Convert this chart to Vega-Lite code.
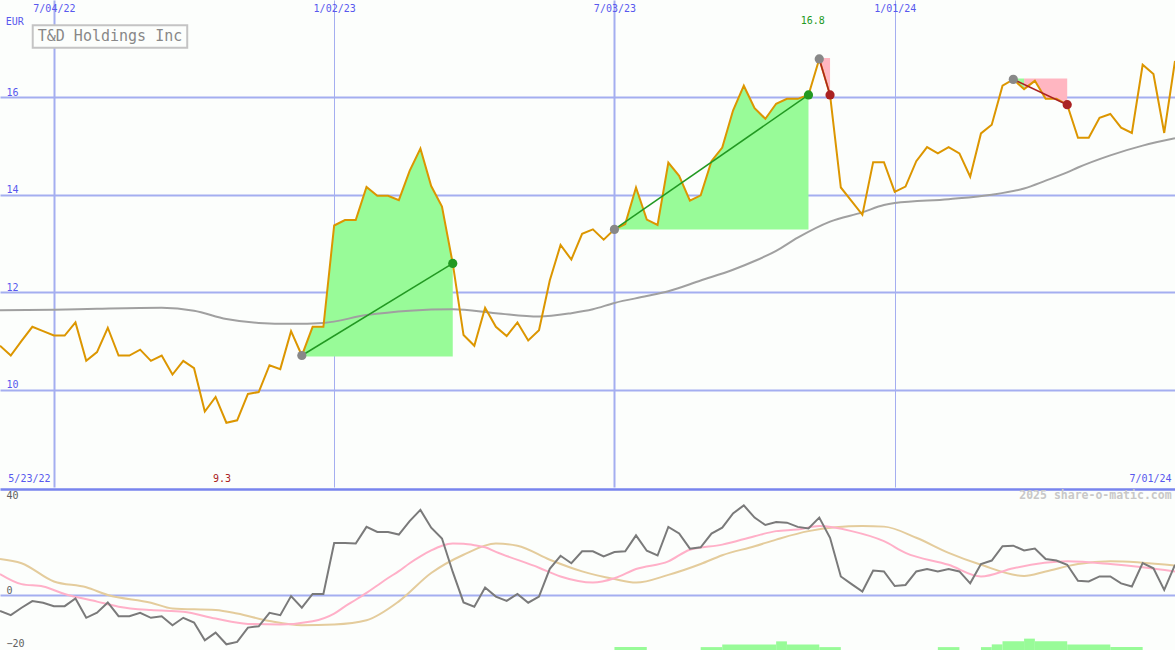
{
  "$schema": "https://vega.github.io/schema/vega-lite/v6.json",
  "width": 1175,
  "height": 650,
  "autosize": {"type": "none"},
  "padding": 0,
  "background": "#fcfefc",
  "config": {"view": {"stroke": null}, "font": "DejaVu Sans Mono", "axis": {"labelFont": "DejaVu Sans Mono"}},
  "datasets": {
    "weekly": [
      {"d":"2022-05-30","p":10.90,"o":-6.0},{"d":"2022-06-06","p":10.70,"o":-7.6},{"d":"2022-06-13","p":11.00,"o":-4.8},{"d":"2022-06-20","p":11.29,"o":-2.3},
      {"d":"2022-06-27","p":11.20,"o":-2.9},{"d":"2022-07-04","p":11.11,"o":-4.2},{"d":"2022-07-11","p":11.11,"o":-4.2},{"d":"2022-07-18","p":11.38,"o":-1.3},
      {"d":"2022-07-25","p":10.59,"o":-8.6},{"d":"2022-08-01","p":10.77,"o":-6.7},{"d":"2022-08-08","p":11.27,"o":-2.8},{"d":"2022-08-15","p":10.70,"o":-8.0},
      {"d":"2022-08-22","p":10.70,"o":-8.0},{"d":"2022-08-29","p":10.82,"o":-6.7},{"d":"2022-09-05","p":10.59,"o":-8.6},{"d":"2022-09-12","p":10.70,"o":-8.0},
      {"d":"2022-09-19","p":10.31,"o":-11.4},{"d":"2022-09-26","p":10.59,"o":-8.6},{"d":"2022-10-03","p":10.44,"o":-10.4},{"d":"2022-10-10","p":9.55,"o":-17.1},
      {"d":"2022-10-17","p":9.85,"o":-14.2},{"d":"2022-10-24","p":9.32,"o":-18.6},{"d":"2022-10-31","p":9.37,"o":-17.7},{"d":"2022-11-07","p":9.91,"o":-12.3},
      {"d":"2022-11-14","p":9.95,"o":-11.8},{"d":"2022-11-21","p":10.50,"o":-6.7},{"d":"2022-11-28","p":10.42,"o":-7.6},{"d":"2022-12-05","p":11.20,"o":-0.4},
      {"d":"2022-12-12","p":10.70,"o":-4.8},{"d":"2022-12-19","p":11.29,"o":0.4},{"d":"2022-12-26","p":11.29,"o":0.4},{"d":"2023-01-02","p":13.37,"o":19.6},
      {"d":"2023-01-09","p":13.48,"o":19.6},{"d":"2023-01-16","p":13.48,"o":19.4},{"d":"2023-01-23","p":14.16,"o":25.7},{"d":"2023-01-30","p":13.98,"o":23.8},
      {"d":"2023-02-06","p":13.98,"o":23.8},{"d":"2023-02-13","p":13.89,"o":22.8},{"d":"2023-02-20","p":14.49,"o":27.9},{"d":"2023-02-27","p":14.95,"o":32.1},
      {"d":"2023-03-06","p":14.18,"o":25.4},{"d":"2023-03-13","p":13.76,"o":21.3},{"d":"2023-03-20","p":12.59,"o":8.7},{"d":"2023-03-27","p":11.12,"o":-2.8},
      {"d":"2023-04-03","p":10.90,"o":-4.4},{"d":"2023-04-10","p":11.68,"o":2.8},{"d":"2023-04-17","p":11.29,"o":-0.6},{"d":"2023-04-24","p":11.10,"o":-2.2},
      {"d":"2023-05-01","p":11.38,"o":0.4},{"d":"2023-05-08","p":11.01,"o":-2.9},{"d":"2023-05-15","p":11.22,"o":-0.6},{"d":"2023-05-22","p":12.24,"o":9.9},
      {"d":"2023-05-29","p":12.97,"o":14.8},{"d":"2023-06-05","p":12.67,"o":12.0},{"d":"2023-06-12","p":13.20,"o":16.5},{"d":"2023-06-19","p":13.29,"o":16.5},
      {"d":"2023-06-26","p":13.08,"o":14.6},{"d":"2023-07-03","p":13.29,"o":16.2},{"d":"2023-07-10","p":13.40,"o":16.5},{"d":"2023-07-17","p":14.15,"o":22.5},
      {"d":"2023-07-24","p":13.49,"o":16.7},{"d":"2023-07-31","p":13.38,"o":14.9},{"d":"2023-08-07","p":14.66,"o":25.7},{"d":"2023-08-14","p":14.39,"o":23.2},
      {"d":"2023-08-21","p":13.88,"o":17.5},{"d":"2023-08-28","p":13.99,"o":18.0},{"d":"2023-09-04","p":14.69,"o":23.2},{"d":"2023-09-11","p":14.97,"o":25.4},
      {"d":"2023-09-18","p":15.73,"o":30.8},{"d":"2023-09-25","p":16.24,"o":33.8},{"d":"2023-10-02","p":15.78,"o":29.2},{"d":"2023-10-09","p":15.56,"o":26.4},
      {"d":"2023-10-16","p":15.87,"o":27.5},{"d":"2023-10-23","p":15.97,"o":27.3},{"d":"2023-10-30","p":15.97,"o":25.7},{"d":"2023-11-06","p":16.05,"o":25.1},
      {"d":"2023-11-13","p":16.79,"o":29.2},{"d":"2023-11-20","p":16.05,"o":21.6},{"d":"2023-11-27","p":14.15,"o":7.0},{"d":"2023-12-04","p":13.87,"o":4.1},
      {"d":"2023-12-11","p":13.59,"o":1.3},{"d":"2023-12-18","p":14.67,"o":9.2},{"d":"2023-12-25","p":14.67,"o":8.9},{"d":"2024-01-01","p":14.06,"o":3.4},
      {"d":"2024-01-08","p":14.17,"o":3.8},{"d":"2024-01-15","p":14.69,"o":8.9},{"d":"2024-01-22","p":14.98,"o":9.8},{"d":"2024-01-29","p":14.85,"o":8.9},
      {"d":"2024-02-05","p":14.98,"o":9.8},{"d":"2024-02-12","p":14.85,"o":8.9},{"d":"2024-02-19","p":14.37,"o":4.4},{"d":"2024-02-26","p":15.26,"o":11.7},
      {"d":"2024-03-04","p":15.44,"o":13.0},{"d":"2024-03-11","p":16.24,"o":18.4},{"d":"2024-03-18","p":16.37,"o":18.6},{"d":"2024-03-25","p":16.17,"o":16.8},
      {"d":"2024-04-01","p":16.34,"o":17.5},{"d":"2024-04-08","p":15.97,"o":13.6},{"d":"2024-04-15","p":15.97,"o":13.0},{"d":"2024-04-22","p":15.85,"o":11.4},
      {"d":"2024-04-29","p":15.17,"o":5.4},{"d":"2024-05-06","p":15.17,"o":5.1},{"d":"2024-05-13","p":15.58,"o":7.0},{"d":"2024-05-20","p":15.66,"o":7.0},
      {"d":"2024-05-27","p":15.38,"o":4.4},{"d":"2024-06-03","p":15.27,"o":3.2},{"d":"2024-06-10","p":16.67,"o":12.0},{"d":"2024-06-17","p":16.48,"o":10.1},
      {"d":"2024-06-24","p":15.27,"o":1.9},{"d":"2024-07-01","p":16.75,"o":11.4}
    ],
    "ma": [
      {"d":"2022-05-30","v":11.63},{"d":"2022-07-04","v":11.64},{"d":"2022-08-01","v":11.66},{"d":"2022-09-12","v":11.68},{"d":"2022-10-03","v":11.62},
      {"d":"2022-10-24","v":11.45},{"d":"2022-11-14","v":11.37},{"d":"2022-12-05","v":11.35},{"d":"2022-12-26","v":11.37},{"d":"2023-01-23","v":11.53},
      {"d":"2023-02-20","v":11.62},{"d":"2023-03-20","v":11.65},{"d":"2023-04-17","v":11.57},{"d":"2023-05-15","v":11.50},{"d":"2023-06-05","v":11.57},
      {"d":"2023-06-19","v":11.65},{"d":"2023-07-03","v":11.78},{"d":"2023-07-24","v":11.92},{"d":"2023-08-07","v":12.02},{"d":"2023-08-28","v":12.24},
      {"d":"2023-09-18","v":12.46},{"d":"2023-10-02","v":12.64},{"d":"2023-10-16","v":12.85},{"d":"2023-10-30","v":13.12},{"d":"2023-11-20","v":13.45},
      {"d":"2023-12-11","v":13.64},{"d":"2023-12-25","v":13.79},{"d":"2024-01-01","v":13.83},{"d":"2024-02-05","v":13.91},{"d":"2024-03-04","v":14.00},
      {"d":"2024-03-25","v":14.13},{"d":"2024-04-08","v":14.29},{"d":"2024-04-22","v":14.46},{"d":"2024-04-29","v":14.56},{"d":"2024-05-20","v":14.81},
      {"d":"2024-06-10","v":15.01},{"d":"2024-07-01","v":15.16}
    ],
    "fast": [
      {"d":"2022-05-30","v":7.9},{"d":"2022-06-13","v":4.1},{"d":"2022-06-27","v":3.2},{"d":"2022-07-11","v":0.4},{"d":"2022-08-01","v":-2.5},
      {"d":"2022-08-15","v":-4.4},{"d":"2022-09-05","v":-5.7},{"d":"2022-09-26","v":-6.3},{"d":"2022-10-17","v":-8.9},{"d":"2022-11-07","v":-10.9},
      {"d":"2022-11-28","v":-11.1},{"d":"2022-12-19","v":-9.9},{"d":"2023-01-02","v":-7.0},{"d":"2023-01-09","v":-4.3},{"d":"2023-01-16","v":-1.8},
      {"d":"2023-01-23","v":0.8},{"d":"2023-01-30","v":3.6},{"d":"2023-02-06","v":6.4},{"d":"2023-02-13","v":9.0},{"d":"2023-02-20","v":12.0},
      {"d":"2023-02-27","v":14.6},{"d":"2023-03-06","v":16.8},{"d":"2023-03-13","v":18.6},{"d":"2023-03-20","v":19.4},{"d":"2023-03-27","v":19.3},
      {"d":"2023-04-03","v":18.8},{"d":"2023-04-10","v":18.0},{"d":"2023-04-17","v":16.3},{"d":"2023-05-15","v":10.3},{"d":"2023-05-29","v":7.0},
      {"d":"2023-06-19","v":4.7},{"d":"2023-07-03","v":6.3},{"d":"2023-07-17","v":9.8},{"d":"2023-08-07","v":12.7},{"d":"2023-08-21","v":17.1},
      {"d":"2023-09-11","v":19.0},{"d":"2023-10-02","v":22.2},{"d":"2023-10-16","v":24.1},{"d":"2023-10-30","v":24.7},{"d":"2023-11-13","v":26.0},
      {"d":"2023-12-04","v":24.1},{"d":"2023-12-25","v":20.3},{"d":"2024-01-08","v":15.9},{"d":"2024-02-05","v":11.4},{"d":"2024-02-26","v":7.0},
      {"d":"2024-03-18","v":10.1},{"d":"2024-04-22","v":12.7},{"d":"2024-05-20","v":11.7},{"d":"2024-06-10","v":10.5},{"d":"2024-07-01","v":8.9}
    ],
    "slow": [
      {"d":"2022-05-30","v":13.6},{"d":"2022-06-13","v":12.0},{"d":"2022-07-04","v":5.1},{"d":"2022-07-25","v":2.9},{"d":"2022-08-08","v":0.0},
      {"d":"2022-09-05","v":-2.9},{"d":"2022-09-19","v":-5.1},{"d":"2022-10-17","v":-5.7},{"d":"2022-10-31","v":-7.0},{"d":"2022-11-21","v":-9.8},
      {"d":"2022-12-12","v":-11.4},{"d":"2023-01-02","v":-11.1},{"d":"2023-01-23","v":-9.5},{"d":"2023-02-13","v":-2.4},{"d":"2023-03-06","v":8.3},
      {"d":"2023-03-27","v":15.2},{"d":"2023-04-17","v":19.4},{"d":"2023-05-01","v":18.6},{"d":"2023-05-22","v":13.3},{"d":"2023-06-12","v":8.9},
      {"d":"2023-07-03","v":6.0},{"d":"2023-07-17","v":4.7},{"d":"2023-08-07","v":7.6},{"d":"2023-08-28","v":11.7},{"d":"2023-09-11","v":15.0},
      {"d":"2023-10-02","v":18.4},{"d":"2023-10-16","v":20.9},{"d":"2023-11-06","v":24.1},{"d":"2023-12-11","v":26.0},{"d":"2023-12-25","v":25.8},
      {"d":"2024-01-15","v":21.6},{"d":"2024-02-05","v":15.9},{"d":"2024-02-26","v":11.4},{"d":"2024-03-25","v":7.2},{"d":"2024-04-08","v":8.9},
      {"d":"2024-04-29","v":11.7},{"d":"2024-05-20","v":12.7},{"d":"2024-07-01","v":11.1}
    ],
    "bars": [
      {"s":"2023-07-03","e":"2023-07-24","v":-19.66},{"s":"2023-08-28","e":"2023-09-11","v":-19.66},{"s":"2023-09-11","e":"2023-10-16","v":-18.63},
      {"s":"2023-10-16","e":"2023-10-23","v":-17.49},{"s":"2023-10-23","e":"2023-11-13","v":-18.63},{"s":"2023-11-13","e":"2023-11-27","v":-19.66},
      {"s":"2024-01-29","e":"2024-02-12","v":-19.66},{"s":"2024-02-26","e":"2024-03-04","v":-19.66},{"s":"2024-03-04","e":"2024-03-11","v":-18.63},
      {"s":"2024-03-11","e":"2024-03-25","v":-17.49},{"s":"2024-03-25","e":"2024-04-01","v":-16.46},{"s":"2024-04-01","e":"2024-04-22","v":-17.49},
      {"s":"2024-04-22","e":"2024-05-20","v":-18.63},{"s":"2024-05-20","e":"2024-06-10","v":-19.66}
    ],
    "trades": [
      {"d":"2022-12-12","p":10.70,"t":"t1","k":"entry","res":"win"},{"d":"2023-03-20","p":12.59,"t":"t1","k":"win","res":"win"},
      {"d":"2023-07-03","p":13.29,"t":"t2","k":"entry","res":"win"},{"d":"2023-11-06","p":16.05,"t":"t2","k":"win","res":"win"},
      {"d":"2023-11-13","p":16.79,"t":"t3","k":"entry","res":"loss"},{"d":"2023-11-20","p":16.05,"t":"t3","k":"loss","res":"loss"},
      {"d":"2024-03-18","p":16.37,"t":"t4","k":"entry","res":"loss"},{"d":"2024-04-22","p":15.85,"t":"t4","k":"loss","res":"loss"}
    ]
  },
  "layer": [
    {
      "layer": [
        {
          "data": {"name": "weekly"},
          "transform": [{"filter": "time(datum.d) >= utc(2022,11,12) && time(datum.d) <= utc(2023,2,20)"}],
          "mark": {"type": "area", "color": "#98fb98", "opacity": 1},
          "encoding": {
            "x": {"field": "d", "type": "temporal", "title": null,
              "scale": {"type": "utc", "domain": [{"year":2022,"month":5,"date":30,"utc":true},{"year":2024,"month":7,"date":1,"utc":true}]},
              "axis": {"orient": "top", "title": null,
                "values": [{"year":2022,"month":7,"date":4,"utc":true},{"year":2023,"month":1,"date":2,"utc":true},{"year":2023,"month":7,"date":3,"utc":true},{"year":2024,"month":1,"date":1,"utc":true}],
                "format": "%-m/%d/%y", "grid": true, "gridColor": "#a4aef0",
                "gridWidth": {"condition": {"test": "utcmonth(datum.value) == 6", "value": 2}, "value": 1},
                "domain": false, "ticks": false, "labelColor": "#5858ee", "labelFontSize": 10,
                "labelBaseline": "middle", "labelPadding": -8, "labelFlush": false}},
            "y": {"field": "p", "type": "quantitative", "title": null,
              "scale": {"domain": [8, 18], "range": [487, 0], "zero": false, "nice": false},
              "axis": {"orient": "left", "title": null, "values": [10, 12, 14, 16], "format": "d", "grid": true, "gridColor": "#a4aef0", "gridWidth": 2,
                "domain": false, "ticks": false, "labelAlign": "left", "labelBaseline": "bottom", "labelPadding": -6,
                "labelColor": "#5858ee", "labelFontSize": 10}},
            "y2": {"datum": 10.68}
          }
        },
        {
          "data": {"name": "weekly"},
          "transform": [{"filter": "time(datum.d) >= utc(2023,6,3) && time(datum.d) <= utc(2023,10,6)"}],
          "mark": {"type": "area", "color": "#98fb98", "opacity": 1},
          "encoding": {"x": {"field": "d", "type": "temporal", "title": null}, "y": {"field": "p", "type": "quantitative", "title": null}, "y2": {"datum": 13.29}}
        },
        {
          "data": {"name": "weekly"},
          "transform": [{"filter": "time(datum.d) >= utc(2023,10,13) && time(datum.d) <= utc(2023,10,20)"}],
          "mark": {"type": "area", "color": "#ffb6c1", "opacity": 1},
          "encoding": {"x": {"field": "d", "type": "temporal", "title": null}, "y": {"field": "p", "type": "quantitative", "title": null}, "y2": {"datum": 16.81}}
        },
        {
          "data": {"name": "weekly"},
          "transform": [{"filter": "time(datum.d) >= utc(2024,2,25) && time(datum.d) <= utc(2024,3,22)"}],
          "mark": {"type": "area", "color": "#ffb6c1", "opacity": 1},
          "encoding": {"x": {"field": "d", "type": "temporal", "title": null}, "y": {"field": "p", "type": "quantitative", "title": null}, "y2": {"datum": 16.39}}
        },
        {
          "data": {"name": "weekly"},
          "transform": [{"filter": "time(datum.d) >= utc(2024,2,18) && time(datum.d) <= utc(2024,2,25)"}],
          "mark": {"type": "area", "color": "#98fb98", "opacity": 1},
          "encoding": {"x": {"field": "d", "type": "temporal", "title": null}, "y": {"field": "p", "type": "quantitative", "title": null}, "y2": {"datum": 16.39}}
        },
        {
          "data": {"name": "ma"},
          "mark": {"type": "line", "color": "#a0a0a0", "strokeWidth": 2, "interpolate": "monotone"},
          "encoding": {"x": {"field": "d", "type": "temporal", "title": null}, "y": {"field": "v", "type": "quantitative", "title": null}}
        },
        {
          "data": {"name": "weekly"},
          "mark": {"type": "line", "color": "#dc9600", "strokeWidth": 2},
          "encoding": {"x": {"field": "d", "type": "temporal", "title": null}, "y": {"field": "p", "type": "quantitative", "title": null}}
        },
        {
          "data": {"name": "trades"},
          "mark": {"type": "line", "strokeWidth": 1.5},
          "encoding": {
            "x": {"field": "d", "type": "temporal", "title": null},
            "y": {"field": "p", "type": "quantitative", "title": null},
            "detail": {"field": "t", "type": "nominal"},
            "color": {"field": "res", "type": "nominal", "legend": null,
              "scale": {"domain": ["entry", "win", "loss"], "range": ["#888888", "#229922", "#aa2222"]}}
          }
        },
        {
          "data": {"name": "trades"},
          "mark": {"type": "circle", "size": 85, "opacity": 1},
          "encoding": {
            "x": {"field": "d", "type": "temporal", "title": null},
            "y": {"field": "p", "type": "quantitative", "title": null},
            "color": {"field": "k", "type": "nominal", "legend": null,
              "scale": {"domain": ["entry", "win", "loss"], "range": ["#888888", "#229922", "#aa2222"]}}
          }
        },
        {
          "data": {"values": [{}]},
          "mark": {"type": "point", "shape": "M-1,-0.1445L1,-0.1445L1,0.1445L-1,0.1445Z", "size": 23870, "filled": false, "fill": "#fcfefc", "fillOpacity": 1, "stroke": "#c4c4c4", "strokeWidth": 2, "opacity": 1},
          "encoding": {"x": {"datum": {"year":2022,"month":8,"date":9,"hours":10,"utc":true}, "type": "temporal"}, "y": {"datum": 17.25, "type": "quantitative"}}
        },
        {
          "data": {"values": [{}]},
          "mark": {"type": "text", "text": "T&D Holdings Inc", "fontSize": 15, "color": "#888888", "align": "center", "baseline": "middle"},
          "encoding": {"x": {"datum": {"year":2022,"month":8,"date":9,"hours":10,"utc":true}, "type": "temporal"}, "y": {"datum": 17.26, "type": "quantitative"}}
        },
        {
          "data": {"values": [{}]},
          "mark": {"type": "text", "text": "EUR", "fontSize": 10, "color": "#5858ee", "align": "left", "baseline": "middle"},
          "encoding": {"x": {"datum": {"year":2022,"month":6,"date":2,"hours":17,"utc":true}, "type": "temporal"}, "y": {"datum": 17.55, "type": "quantitative"}}
        },
        {
          "data": {"values": [{}]},
          "mark": {"type": "text", "text": "5/23/22", "fontSize": 10, "color": "#5858ee", "align": "left", "baseline": "middle"},
          "encoding": {"x": {"datum": {"year":2022,"month":6,"date":4,"hours":10,"utc":true}, "type": "temporal"}, "y": {"datum": 8.16, "type": "quantitative"}}
        },
        {
          "data": {"values": [{}]},
          "mark": {"type": "text", "text": "7/01/24", "fontSize": 10, "color": "#5858ee", "align": "right", "baseline": "middle"},
          "encoding": {"x": {"datum": {"year":2024,"month":6,"date":28,"hours":19,"utc":true}, "type": "temporal"}, "y": {"datum": 8.16, "type": "quantitative"}}
        },
        {
          "data": {"values": [{}]},
          "mark": {"type": "text", "text": "9.3", "fontSize": 10, "color": "#aa2222", "align": "center", "baseline": "middle"},
          "encoding": {"x": {"datum": {"year":2022,"month":10,"date":21,"hours":5,"utc":true}, "type": "temporal"}, "y": {"datum": 8.16, "type": "quantitative"}}
        },
        {
          "data": {"values": [{}]},
          "mark": {"type": "text", "text": "16.8", "fontSize": 10, "color": "#229922", "align": "center", "baseline": "middle"},
          "encoding": {"x": {"datum": {"year":2023,"month":11,"date":8,"hours":19,"utc":true}, "type": "temporal"}, "y": {"datum": 17.56, "type": "quantitative"}}
        }
      ]
    },
    {
      "layer": [
        {
          "data": {"name": "bars"},
          "mark": {"type": "rect", "color": "#98fb98", "opacity": 1},
          "encoding": {
            "x": {"field": "s", "type": "temporal", "title": null},
            "x2": {"field": "e"},
            "y": {"field": "v", "type": "quantitative", "title": null},
            "y2": {"datum": -20.75}
          }
        },
        {
          "data": {"name": "slow"},
          "mark": {"type": "line", "color": "#e4cc9c", "strokeWidth": 2, "interpolate": "monotone"},
          "encoding": {"x": {"field": "d", "type": "temporal", "title": null}, "y": {"field": "v", "type": "quantitative", "title": null}}
        },
        {
          "data": {"name": "fast"},
          "mark": {"type": "line", "color": "#ffb0c8", "strokeWidth": 2, "interpolate": "monotone"},
          "encoding": {"x": {"field": "d", "type": "temporal", "title": null}, "y": {"field": "v", "type": "quantitative", "title": null}}
        },
        {
          "data": {"name": "weekly"},
          "mark": {"type": "line", "color": "#7a7a7a", "strokeWidth": 2},
          "encoding": {
            "x": {"field": "d", "type": "temporal", "title": null},
            "y": {"field": "o", "type": "quantitative", "title": null,
              "scale": {"domain": [-20.75, 40.75], "range": [650, 487], "zero": false, "nice": false},
              "axis": {"orient": "left", "title": null, "values": [-20, 0, 40], "domain": false, "ticks": false,
                "grid": true,
                "gridColor": {"condition": {"test": "datum.value == 40", "value": "#7884ee"}, "value": "#a4aef0"},
                "gridWidth": {"condition": {"test": "datum.value == 40", "value": 2.5}, "value": 2},
                "gridOpacity": {"condition": {"test": "datum.value == -20", "value": 0}, "value": 1},
                "labelAlign": "left", "labelPadding": -6, "labelColor": "#606060", "labelFontSize": 10,
                "labelBaseline": {"condition": {"test": "datum.value == 40", "value": "top"}, "value": "bottom"},
                "labelOffset": {"condition": {"test": "datum.value == 40", "value": 2}, "value": 0}}}
          }
        },
        {
          "data": {"values": [{}]},
          "mark": {"type": "text", "text": "2025 share-o-matic.com", "fontSize": 11.5, "fontWeight": "bold", "color": "#c8c8c8", "align": "right", "baseline": "middle"},
          "encoding": {"x": {"datum": {"year":2024,"month":6,"date":28,"hours":19,"utc":true}, "type": "temporal"}, "y": {"datum": 37.36, "type": "quantitative"}}
        }
      ]
    }
  ],
  "resolve": {"scale": {"y": "independent"}, "axis": {"y": "independent"}}
}
